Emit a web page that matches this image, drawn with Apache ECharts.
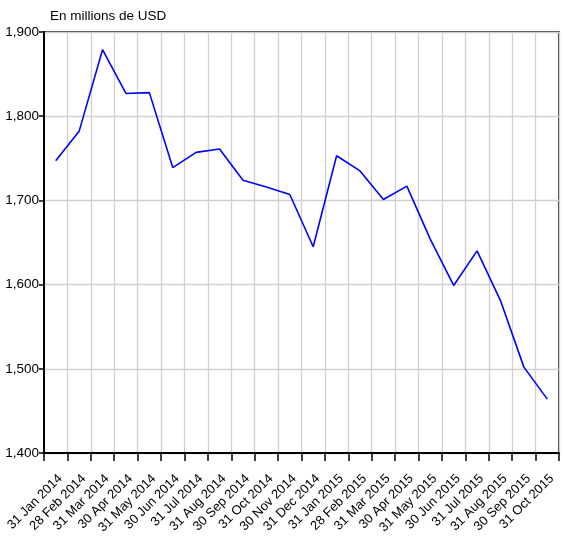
<!DOCTYPE html>
<html>
<head>
<meta charset="utf-8">
<script src="https://cdn.jsdelivr.net/npm/echarts@6/dist/echarts.min.js"></script>
<style>
  html, body { margin: 0; padding: 0; background: #fff; }
  #chart { width: 564px; height: 538px; }
</style>
</head>
<body>
<div id="chart"></div>
<script>
// mois (fin de mois)
const categories = [
  '31 Jan 2014', '28 Feb 2014', '31 Mar 2014', '30 Apr 2014', '31 May 2014',
  '30 Jun 2014', '31 Jul 2014', '31 Aug 2014', '30 Sep 2014', '31 Oct 2014',
  '30 Nov 2014', '31 Dec 2014', '31 Jan 2015', '28 Feb 2015', '31 Mar 2015',
  '30 Apr 2015', '31 May 2015', '30 Jun 2015', '31 Jul 2015', '31 Aug 2015',
  '30 Sep 2015', '31 Oct 2015'
];

// valeurs en millions de USD
const values = [
  1747, 1782, 1879, 1827, 1828,
  1739, 1757, 1761, 1724, 1716,
  1707, 1645, 1753, 1735, 1701,
  1717, 1654, 1599, 1640, 1581,
  1502, 1464
];

const yTicks = [1400, 1500, 1600, 1700, 1800, 1900];

const FONT = "'Liberation Sans', Arial, sans-serif";

const myChart = echarts.init(document.getElementById('chart'), null, {
  width: 564,
  height: 538
});

const option = {
  animation: false,
  title: {
    text: 'En millions de USD',
    left: 45,
    top: 4,
    textStyle: {
      fontFamily: FONT,
      fontSize: 13.5,
      fontWeight: 'normal',
      color: '#000'
    }
  },
  grid: {
    left: 44,
    right: 5,
    top: 32,
    bottom: 85,
    show: true,
    borderColor: '#000',
    borderWidth: 1.5,
    containLabel: false,
    outerBoundsMode: 'none'
  },
  xAxis: {
    type: 'category',
    data: categories,
    boundaryGap: true,
    axisLine: { lineStyle: { color: '#000', width: 2 } },
    axisTick: { show: true, interval: 0, length: 8, lineStyle: { color: '#000', width: 1.5 } },
    splitLine: { show: true, interval: 0, lineStyle: { color: '#d0d0d0', width: 1.3 } },
    axisLabel: {
      interval: 0,
      rotate: 45,
      margin: 19,
      verticalAlign: 'top',
      fontFamily: FONT,
      fontSize: 13,
      color: '#000'
    }
  },
  yAxis: {
    type: 'value',
    min: yTicks[0],
    max: yTicks[yTicks.length - 1],
    interval: 100,
    axisLine: { show: true, lineStyle: { color: '#000', width: 2 } },
    axisTick: { show: true, length: 5, lineStyle: { color: '#000', width: 1.5 } },
    splitLine: { show: true, lineStyle: { color: '#d0d0d0', width: 1.3 } },
    axisLabel: {
      margin: 5,
      fontFamily: FONT,
      fontSize: 13.5,
      color: '#000',
      formatter: v => String(v).replace(/\B(?=(\d{3})+(?!\d))/g, ',')
    }
  },
  series: [
    {
      type: 'line',
      data: values,
      showSymbol: false,
      symbol: 'none',
      lineStyle: { color: '#0000ff', width: 1.6 }
    }
  ]
};

myChart.setOption(option);
</script>
</body>
</html>
